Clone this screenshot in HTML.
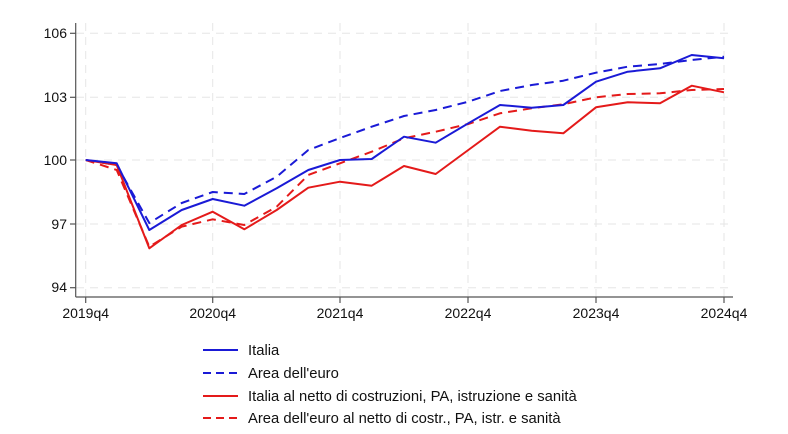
<!DOCTYPE html>
<html><head><meta charset="utf-8"><style>body{margin:0;background:#fff}svg{display:block}text{font-family:"Liberation Sans",Arial,sans-serif;fill:#111}</style></head>
<body>
<svg width="788" height="434" viewBox="0 0 788 434">
<g stroke="#e6e6e6" stroke-width="1" stroke-dasharray="8,6">
<line x1="76" y1="33.3" x2="733" y2="33.3"/><line x1="76" y1="97.3" x2="733" y2="97.3"/><line x1="76" y1="160" x2="733" y2="160"/><line x1="76" y1="224" x2="733" y2="224"/><line x1="76" y1="287.7" x2="733" y2="287.7"/>
<line x1="85.7" y1="23" x2="85.7" y2="297"/><line x1="212.7" y1="23" x2="212.7" y2="297"/><line x1="340" y1="23" x2="340" y2="297"/><line x1="468" y1="23" x2="468" y2="297"/><line x1="596" y1="23" x2="596" y2="297"/><line x1="724" y1="23" x2="724" y2="297"/>
</g>
<g stroke="#555" stroke-width="1.2" fill="none">
<line x1="75.7" y1="23" x2="75.7" y2="297"/><line x1="75.7" y1="297" x2="733" y2="297"/>
<line x1="70" y1="33.3" x2="75.7" y2="33.3"/><line x1="70" y1="97.3" x2="75.7" y2="97.3"/><line x1="70" y1="160" x2="75.7" y2="160"/><line x1="70" y1="224" x2="75.7" y2="224"/><line x1="70" y1="287.7" x2="75.7" y2="287.7"/>
<line x1="85.7" y1="297" x2="85.7" y2="303"/><line x1="212.7" y1="297" x2="212.7" y2="303"/><line x1="340" y1="297" x2="340" y2="303"/><line x1="468" y1="297" x2="468" y2="303"/><line x1="596" y1="297" x2="596" y2="303"/><line x1="724" y1="297" x2="724" y2="303"/>
</g>
<g font-size="14" text-anchor="end">
<text x="67" y="38">106</text><text x="67" y="102">103</text><text x="67" y="165">100</text><text x="67" y="229">97</text><text x="67" y="292">94</text>
</g>
<g font-size="14" text-anchor="middle">
<text x="85.7" y="318">2019q4</text><text x="212.7" y="318">2020q4</text><text x="340" y="318">2021q4</text><text x="468" y="318">2022q4</text><text x="596" y="318">2023q4</text><text x="724" y="318">2024q4</text>
</g>
<g fill="none" stroke-width="2" stroke-linejoin="round">
<polyline stroke="#1a1ad6" stroke-dasharray="9,6" points="85.7,160 116.7,165 149.3,223 181.7,203 212.7,192 244.3,194 276.7,176.7 308.3,150 340,138 371.7,126.7 404,116 435.7,110 468.3,101.7 500,91 531.7,85 563.3,80.7 596,72.7 627.7,66.7 660,64 691.7,60 724,56.7"/>
<polyline stroke="#e41a1a" stroke-dasharray="9,6" points="85.7,160 116.7,170 149.3,246.7 181.7,226.7 212.7,219.3 244.3,225 276.7,206.7 308.3,175 340,163.3 371.7,151.7 404,138.3 435.7,131.7 468.3,124 500,113.3 531.7,108.3 563.3,104.3 596,97.3 627.7,94 660,93.3 691.7,90 724,89"/>
<polyline stroke="#e41a1a" points="85.7,160 116.7,165 149.3,248.3 181.7,225 212.7,211.7 244.3,229.3 276.7,210 308.3,187.7 340,181.7 371.7,185.7 404,166 435.7,174 468.3,150 500,126.7 531.7,130.7 563.3,133.3 596,107.3 627.7,102.3 660,103.3 691.7,85.7 724,92.3"/>
<polyline stroke="#1a1ad6" points="85.7,160 116.7,163.3 149.3,230 181.7,210 212.7,199 244.3,205.7 276.7,188.3 308.3,170 340,160 371.7,159 404,136.7 435.7,142.7 468.3,123.3 500,105 531.7,107.7 563.3,105 596,81.7 627.7,71.7 660,68.3 691.7,55 724,58.3"/>
</g>
<g stroke-width="2">
<line x1="203" y1="350" x2="238" y2="350" stroke="#1a1ad6"/>
<line x1="203" y1="373" x2="238" y2="373" stroke="#1a1ad6" stroke-dasharray="8,5"/>
<line x1="203" y1="396" x2="238" y2="396" stroke="#e41a1a"/>
<line x1="203" y1="418" x2="238" y2="418" stroke="#e41a1a" stroke-dasharray="8,5"/>
</g>
<g font-size="14.8">
<text x="248" y="355">Italia</text>
<text x="248" y="378">Area dell'euro</text>
<text x="248" y="401">Italia al netto di costruzioni, PA, istruzione e sanità</text>
<text x="248" y="423">Area dell'euro al netto di costr., PA, istr. e sanità</text>
</g>
</svg>
</body></html>
